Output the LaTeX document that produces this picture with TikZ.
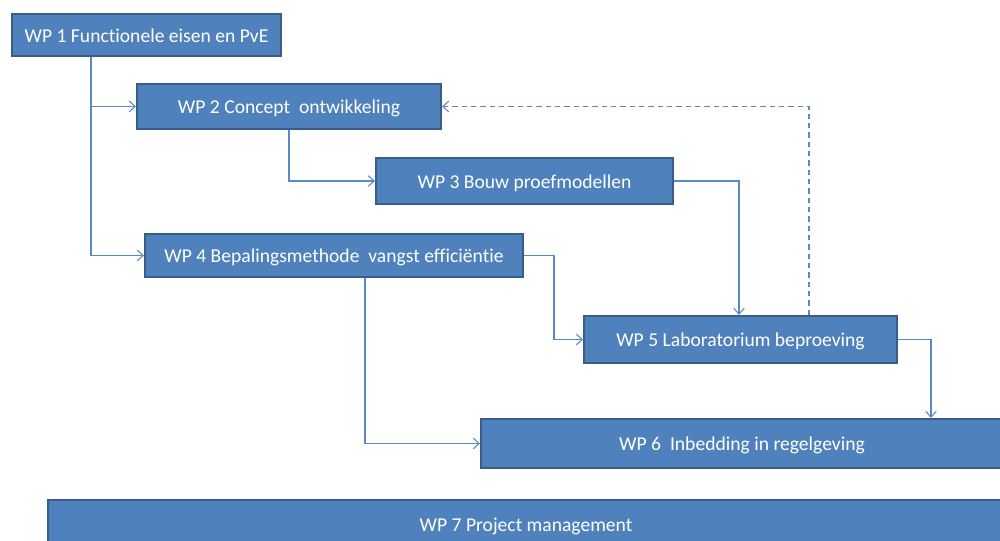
\documentclass[tikz,border=0pt]{standalone}
\usepackage{fontspec}
\setmainfont{Carlito}[Ligatures={NoCommon}]
\usetikzlibrary{arrows.meta,calc}
\definecolor{boxfill}{HTML}{4F81BD}
\definecolor{boxline}{HTML}{385D8A}
\definecolor{conline}{HTML}{5A8AC6}
\tikzset{
  wp/.style={draw=boxline, line width=1.5pt, fill=boxfill, text=white,
    font=\fontsize{14.7pt}{16pt}\selectfont, inner sep=0pt, anchor=center,
    text height=11pt, text depth=0pt},
  conn/.style={draw=conline, line width=0.8pt, -{Straight Barb[length=4.5pt,width=8pt]}},
  dconn/.style={conn, dash pattern=on 4pt off 3pt}
}
\begin{document}
\begin{tikzpicture}[x=0.75pt,y=-0.75pt]
\useasboundingbox (0,0) rectangle (1000,541);
\clip (0,0) rectangle (1000,541);
\fill[white] (0,0) rectangle (1000,541);
\node[wp, minimum width=269*0.75pt, minimum height=42*0.75pt] (wp1) at (146.5,35) {WP 1 Functionele eisen en PvE};
\node[wp, minimum width=304*0.75pt, minimum height=45*0.75pt] (wp2) at (289,106.5) {WP 2 Concept\ \ ontwikkeling};
\node[wp, minimum width=297*0.75pt, minimum height=46*0.75pt] (wp3) at (524.5,181) {WP 3 Bouw proefmodellen};
\node[wp, minimum width=378*0.75pt, minimum height=43*0.75pt] (wp4) at (334,255.5) {WP 4 Bepalingsmethode\ \ vangst efficiëntie};
\node[wp, minimum width=313*0.75pt, minimum height=47*0.75pt] (wp5) at (740.5,339.5) {WP 5 Laboratorium beproeving};
\node[wp, minimum width=522*0.75pt, minimum height=49*0.75pt] (wp6) at (742,443.5) {WP 6\ \ Inbedding in regelgeving};
\node[wp, minimum width=956*0.75pt, minimum height=48*0.75pt] (wp7) at (526,524) {WP 7 Project management};
\coordinate (j1) at ($(wp1.south west)+(80,0)$);
\draw[conn] (j1) |- (wp2.west);
\draw[conn] (j1) |- (wp4.west);
\draw[conn] (wp2.south) |- (wp3.west);
\draw[conn] (wp3.east) -| ($(wp5.north west)+(156,0)$);
\draw[conn] (wp4.east) -- ++(30,0) |- (wp5.west);
\draw[conn] ($(wp4.south west)+(221,0)$) |- (wp6.west);
\draw[conn] (wp5.east) -| ($(wp6.north west)+(451,0)$);
\draw[dconn] ($(wp5.north west)+(226,0)$) |- (wp2.east);
\end{tikzpicture}
\end{document}
